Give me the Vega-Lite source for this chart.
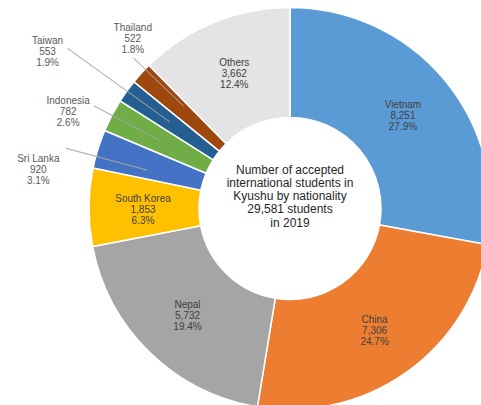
{
  "$schema": "https://vega.github.io/schema/vega-lite/v6.json",
  "width": 580,
  "height": 417,
  "autosize": {"type": "none"},
  "padding": {"left": 0, "top": 0, "right": -99, "bottom": -12},
  "background": "white",
  "config": {"view": {"stroke": null}, "font": "Liberation Sans"},
  "data": {
    "values": [
      {"order": 1, "country": "Vietnam", "students": 8251, "pct": "27.9%"},
      {"order": 2, "country": "China", "students": 7306, "pct": "24.7%"},
      {"order": 3, "country": "Nepal", "students": 5732, "pct": "19.4%"},
      {"order": 4, "country": "South Korea", "students": 1853, "pct": "6.3%"},
      {"order": 5, "country": "Sri Lanka", "students": 920, "pct": "3.1%"},
      {"order": 6, "country": "Indonesia", "students": 782, "pct": "2.6%"},
      {"order": 7, "country": "Taiwan", "students": 553, "pct": "1.9%"},
      {"order": 8, "country": "Thailand", "students": 522, "pct": "1.8%"},
      {"order": 9, "country": "Others", "students": 3662, "pct": "12.4%"}
    ]
  },
  "transform": [
    {"stack": "students", "groupby": [], "sort": [{"field": "order", "order": "ascending"}], "as": ["s0", "s1"]},
    {"calculate": "(datum.s0 + datum.s1) / 2", "as": "mid"},
    {"calculate": "datum.mid + 6", "as": "mid2"},
    {"calculate": "[datum.country, format(datum.students, ','), datum.pct]", "as": "label"}
  ],
  "layer": [
    {
      "mark": {"type": "arc", "innerRadius": 91, "outerRadius": 201, "stroke": "#ffffff", "strokeWidth": 1.5},
      "encoding": {
        "theta": {"field": "s1", "type": "quantitative", "stack": null, "scale": {"type": "linear", "nice": false, "zero": true}},
        "theta2": {"field": "s0"},
        "color": {
          "field": "country",
          "type": "nominal",
          "legend": null,
          "scale": {
            "domain": ["Vietnam", "China", "Nepal", "South Korea", "Sri Lanka", "Indonesia", "Taiwan", "Thailand", "Others"],
            "range": ["#5B9BD5", "#ED7D31", "#A5A5A5", "#FFC000", "#4472C4", "#70AD47", "#255E91", "#9E480E", "#E4E4E4"]
          }
        }
      }
    },
    {
      "transform": [{"filter": {"field": "country", "oneOf": ["Vietnam", "China", "Nepal", "South Korea", "Others"]}}],
      "mark": {"type": "text", "radius": 147, "dy": -9, "fontSize": 10, "fill": "#404040", "lineHeight": 11, "baseline": "middle", "align": "center"},
      "encoding": {
        "theta": {"field": "mid", "type": "quantitative", "stack": null},
        "text": {"field": "label"}
      }
    },
    {
      "transform": [
        {"filter": "datum.country === 'Thailand'"},
        {"calculate": "datum.s0 + 0.75 * datum.students", "as": "lead"},
        {"calculate": "datum.lead + 6", "as": "lead2"}
      ],
      "layer": [
        {
          "mark": {"type": "arc", "innerRadius": 148, "outerRadius": 217, "fill": "#A6A6A6", "stroke": "#A6A6A6", "strokeWidth": 0.6},
          "encoding": {"theta": {"field": "lead", "type": "quantitative", "stack": null}, "theta2": {"field": "lead2"}}
        },
        {
          "mark": {"type": "text", "radius": 230, "dx": 13, "dy": -26, "fontSize": 10, "fill": "#595959", "lineHeight": 11, "baseline": "middle", "align": "center"},
          "encoding": {"theta": {"field": "mid", "type": "quantitative", "stack": null}, "text": {"field": "label"}}
        }
      ]
    },
    {
      "transform": [{"filter": "datum.country === 'Taiwan'"}],
      "layer": [
        {
          "mark": {"type": "arc", "innerRadius": 148, "outerRadius": 274, "fill": "#A6A6A6", "stroke": "#A6A6A6", "strokeWidth": 0.6},
          "encoding": {"theta": {"field": "mid", "type": "quantitative", "stack": null}, "theta2": {"field": "mid2"}}
        },
        {
          "mark": {"type": "text", "radius": 290, "dx": -7, "dy": 2, "fontSize": 10, "fill": "#595959", "lineHeight": 11, "baseline": "middle", "align": "center"},
          "encoding": {"theta": {"field": "mid", "type": "quantitative", "stack": null}, "text": {"field": "label"}}
        }
      ]
    },
    {
      "transform": [{"filter": "datum.country === 'Indonesia'"}],
      "layer": [
        {
          "mark": {"type": "arc", "innerRadius": 148, "outerRadius": 221, "fill": "#A6A6A6", "stroke": "#A6A6A6", "strokeWidth": 0.6},
          "encoding": {"theta": {"field": "mid", "type": "quantitative", "stack": null}, "theta2": {"field": "mid2"}}
        },
        {
          "mark": {"type": "text", "radius": 230, "dx": -18, "dy": -1, "fontSize": 10, "fill": "#595959", "lineHeight": 11, "baseline": "middle", "align": "center"},
          "encoding": {"theta": {"field": "mid", "type": "quantitative", "stack": null}, "text": {"field": "label"}}
        }
      ]
    },
    {
      "transform": [
        {"filter": "datum.country === 'Sri Lanka'"},
        {"calculate": "datum.s0 + 0.3 * datum.students", "as": "lead"},
        {"calculate": "datum.lead + 6", "as": "lead2"}
      ],
      "layer": [
        {
          "mark": {"type": "arc", "innerRadius": 148, "outerRadius": 232, "fill": "#A6A6A6", "stroke": "#A6A6A6", "strokeWidth": 0.6},
          "encoding": {"theta": {"field": "lead", "type": "quantitative", "stack": null}, "theta2": {"field": "lead2"}}
        },
        {
          "mark": {"type": "text", "radius": 230, "dx": -32, "dy": 19, "fontSize": 10, "fill": "#595959", "lineHeight": 11, "baseline": "middle", "align": "center"},
          "encoding": {"theta": {"field": "mid", "type": "quantitative", "stack": null}, "text": {"field": "label"}}
        }
      ]
    },
    {
      "transform": [{"filter": "datum.country === 'Vietnam'"}],
      "mark": {
        "type": "text",
        "text": ["Number of accepted", "international students in", "Kyushu by nationality", "29,581 students", "in 2019"],
        "fontSize": 12,
        "fill": "#262626",
        "lineHeight": 13.3,
        "baseline": "middle",
        "align": "center",
        "dy": -39
      },
      "encoding": {}
    }
  ]
}
